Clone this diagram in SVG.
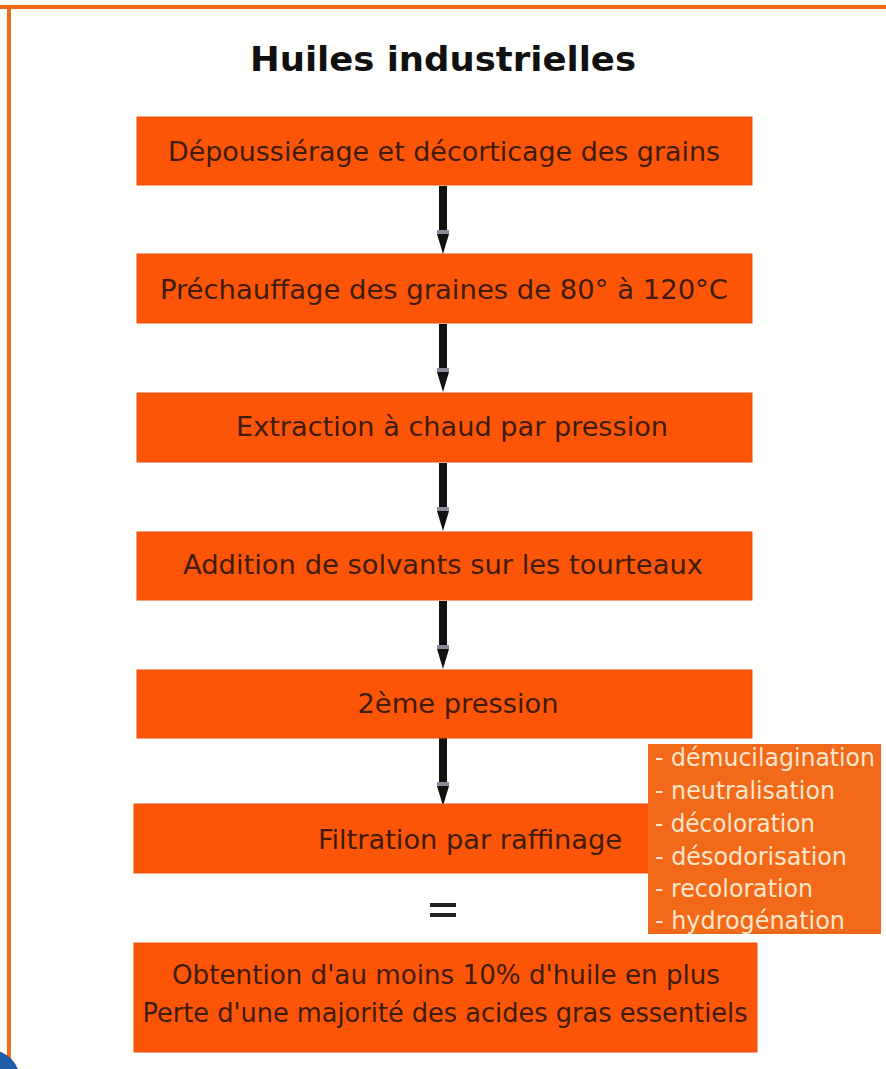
<svg xmlns="http://www.w3.org/2000/svg" width="886" height="1069" viewBox="0 0 886 1069">
<style>
.box{fill:#fd5507;stroke:#e4500f;stroke-width:1}
.side{fill:#f2691a}
.t{font-family:"DejaVu Sans Condensed","DejaVu Sans",sans-serif;font-size:26px;fill:#3e1c0c;text-anchor:middle}
.s{font-family:"DejaVu Sans Condensed","DejaVu Sans",sans-serif;font-size:24px;fill:#fde6cc}
.title{font-family:"DejaVu Sans Condensed","DejaVu Sans",sans-serif;font-weight:bold;font-size:34px;fill:#111;text-anchor:middle}
</style>
<defs>
<g id="arrow">
<rect x="-4" y="0" width="8" height="44" fill="#111"/>
<rect x="-6" y="44" width="12" height="4" fill="#8a8a98"/>
<polygon points="-6,48 6,48 0,68" fill="#111"/>
</g>
</defs>
<rect x="0" y="0" width="886" height="1069" fill="#fffffd"/>
<rect x="0" y="5" width="886" height="4" fill="#f26a1a"/>
<rect x="7" y="5" width="4" height="1064" fill="#f26a1a"/>
<circle cx="-10" cy="1080" r="30" fill="#1f5fa8"/>
<g id="title"><text class="title" x="443" y="71" textLength="386" lengthAdjust="spacingAndGlyphs">Huiles industrielles</text></g>
<g id="connectors">
<use href="#arrow" x="443" y="186"/>
<use href="#arrow" x="443" y="324"/>
<use href="#arrow" x="443" y="463"/>
<use href="#arrow" x="443" y="601"/>
<use href="#arrow" x="443" y="738"/>
<g id="equals"><rect x="430" y="903" width="26" height="4" fill="#222"/><rect x="430" y="913" width="26" height="4" fill="#222"/></g>
</g>
<g id="n1"><rect class="box" x="137" y="117" width="615" height="68"/><text class="t" x="444" y="161" textLength="552" lengthAdjust="spacingAndGlyphs">Dépoussiérage et décorticage des grains</text></g>
<g id="n2"><rect class="box" x="137" y="254" width="615" height="69"/><text class="t" x="444" y="299" textLength="568" lengthAdjust="spacingAndGlyphs">Préchauffage des graines de 80° à 120°C</text></g>
<g id="n3"><rect class="box" x="137" y="393" width="615" height="69"/><text class="t" x="452" y="436" textLength="432" lengthAdjust="spacingAndGlyphs">Extraction à chaud par pression</text></g>
<g id="n4"><rect class="box" x="137" y="532" width="615" height="68"/><text class="t" x="443" y="574" textLength="520" lengthAdjust="spacingAndGlyphs">Addition de solvants sur les tourteaux</text></g>
<g id="n5"><rect class="box" x="137" y="670" width="615" height="68"/><text class="t" x="458" y="713" textLength="201" lengthAdjust="spacingAndGlyphs">2ème pression</text></g>
<g id="n6"><rect class="box" x="134" y="804" width="618" height="69"/><text class="t" x="470" y="849" textLength="304" lengthAdjust="spacingAndGlyphs">Filtration par raffinage</text></g>
<g id="n7"><rect class="box" x="134" y="943" width="623" height="109"/><text class="t" x="446" y="984" textLength="548" lengthAdjust="spacingAndGlyphs">Obtention d'au moins 10% d'huile en plus</text><text class="t" x="445" y="1022" textLength="605" lengthAdjust="spacingAndGlyphs">Perte d'une majorité des acides gras essentiels</text></g>
<g id="n8"><rect class="side" x="648" y="744" width="233" height="190"/>
<text class="s" x="655" y="766" textLength="220" lengthAdjust="spacingAndGlyphs">- démucilagination</text>
<text class="s" x="655" y="799" textLength="180" lengthAdjust="spacingAndGlyphs">- neutralisation</text>
<text class="s" x="655" y="832" textLength="160" lengthAdjust="spacingAndGlyphs">- décoloration</text>
<text class="s" x="655" y="865" textLength="192" lengthAdjust="spacingAndGlyphs">- désodorisation</text>
<text class="s" x="655" y="897" textLength="158" lengthAdjust="spacingAndGlyphs">- recoloration</text>
<text class="s" x="655" y="929" textLength="190" lengthAdjust="spacingAndGlyphs">- hydrogénation</text>
</g>
</svg>
